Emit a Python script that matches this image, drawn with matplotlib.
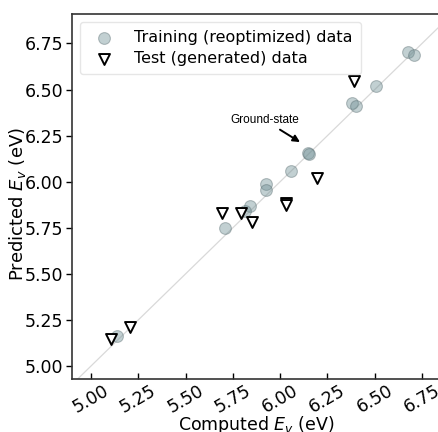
import numpy as np
import matplotlib
matplotlib.use("Agg")
import matplotlib.pyplot as plt

# training set (reoptimized structures): computed vs predicted Ev
train_computed = [6.675, 6.706, 6.506, 6.382, 6.400, 6.148, 6.150, 6.057,
                  5.927, 5.927, 5.842, 5.813, 5.707, 5.139]
train_predicted = [6.701, 6.687, 6.518, 6.425, 6.410, 6.157, 6.150, 6.057,
                   5.985, 5.953, 5.868, 5.841, 5.748, 5.164]

# test set (generated structures)
test_computed = [6.388, 6.196, 6.030, 6.030, 5.693, 5.792, 5.853, 5.108, 5.209]
test_predicted = [6.546, 6.018, 5.886, 5.875, 5.828, 5.831, 5.781, 5.145, 5.213]

tick_vals = [5.00, 5.25, 5.50, 5.75, 6.00, 6.25, 6.50, 6.75]

fig = plt.figure(figsize=(4.39, 4.32), dpi=100)
ax = fig.add_axes([0.164, 0.1227, 0.8405, 0.845])

ax.plot([4.8, 7.0], [4.8, 7.0], color="#d9d9d9", lw=0.9, zorder=1)

ax.scatter(train_computed, train_predicted, s=72, color="#6f8f94", alpha=0.42,
           edgecolors="#5a6e72", linewidths=0.8, zorder=2,
           label="Training (reoptimized) data")
ax.scatter(test_computed, test_predicted, s=62, marker="v", facecolors="white",
           edgecolors="black", linewidths=1.4, zorder=3,
           label="Test (generated) data")

ax.annotate("Ground-state", xy=(6.105, 6.215), xytext=(5.918, 6.334),
            ha="center", va="center", fontsize=8.5, family="Liberation Sans",
            arrowprops=dict(arrowstyle="-|>", color="black", lw=1.4,
                            mutation_scale=10, shrinkA=1, shrinkB=0))

ax.set_xlim(4.90, 6.85)
ax.set_ylim(4.93, 6.91)
ax.set_xticks(tick_vals)
ax.set_yticks(tick_vals)
ax.set_xticklabels(["%.2f" % v for v in tick_vals], rotation=30, fontsize=12.5)
ax.set_yticklabels(["%.2f" % v for v in tick_vals], fontsize=12.5)
ax.tick_params(axis="x", direction="in", length=4, width=1, pad=2)
ax.tick_params(axis="y", direction="out", length=4, width=1, pad=2)
for sp in ax.spines.values():
    sp.set_linewidth(1.2)
    sp.set_color("#333333")

ax.set_xlabel("Computed $E_v$ (eV)", fontsize=12.5, labelpad=-2)
ax.set_ylabel("Predicted $E_v$ (eV)", fontsize=13)
ax.yaxis.set_label_coords(-0.12, 0.48)

leg = ax.legend(loc="upper left", fontsize=11.5, frameon=True, framealpha=1,
                edgecolor="#e6e6e6", handletextpad=0.9, borderpad=0.5,
                labelspacing=0.4, markerscale=1.0)

fig.savefig("out.png", dpi=100)
